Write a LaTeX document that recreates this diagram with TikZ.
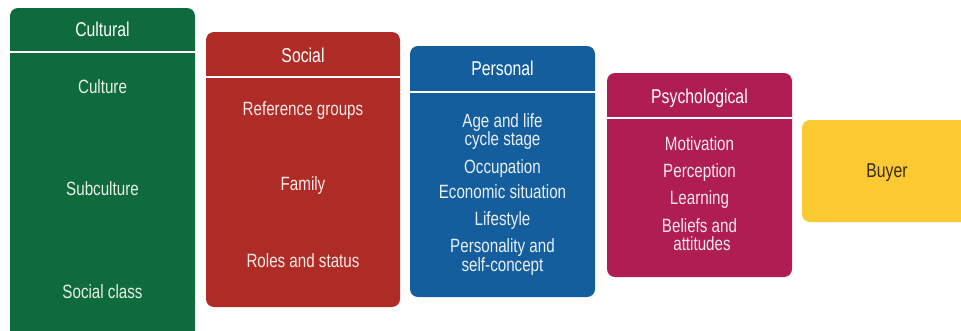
\documentclass[tikz,border=0pt]{standalone}
\usepackage{fontspec}
\setmainfont{Liberation Sans}[FakeStretch=0.79]
\definecolor{cgreen}{HTML}{0F6B3B}
\definecolor{cred}{HTML}{AF2C26}
\definecolor{cblue}{HTML}{155E9E}
\definecolor{cmag}{HTML}{B01D52}
\definecolor{cyel}{HTML}{FBCA33}
\definecolor{cdark}{HTML}{3A2A10}
\begin{document}
\begin{tikzpicture}[x=0.75pt,y=-0.75pt,
  panel/.style={rounded corners=6pt},
  sep/.style={white, line width=1.6pt},
  lbl/.style={anchor=base, inner sep=0pt, font=\fontsize{14.4}{15}\selectfont, text=white, text opacity=0.9},
  hd/.style={lbl, font=\fontsize{15}{16}\selectfont, text opacity=1}]
\clip (0,0) rectangle (961,330);
\fill[white] (0,0) rectangle (961,330);
% Cultural
\fill[cgreen, panel] (10,8) rectangle (195,345);
\draw[sep] (10,52) -- (195,52);
\node[hd] (cult) at (102.5,36) {Cultural};
\node[lbl] (c1) at (102.5,93) {Culture};
\node[lbl] (c2) at (102.5,195) {Subculture};
\node[lbl] (c3) at (102.5,298) {Social class};
% Social
\fill[cred, panel] (206,32) rectangle (400,307);
\draw[sep] (206,77) -- (400,77);
\node[hd] (soc) at (303,62) {Social};
\node[lbl] (s1) at (303,115) {Reference groups};
\node[lbl] (s2) at (303,190) {Family};
\node[lbl] (s3) at (303,267) {Roles and status};
% Personal
\fill[cblue, panel] (410,46) rectangle (595,297);
\draw[sep] (410,92) -- (595,92);
\node[hd] (per) at (502.5,75) {Personal};
\node[lbl] (p1a) at (502.5,127) {Age and life};
\node[lbl] (p1b) at (502.5,145) {cycle stage};
\node[lbl] (p2) at (502.5,173) {Occupation};
\node[lbl] (p3) at (502.5,198) {Economic situation};
\node[lbl] (p4) at (502.5,225) {Lifestyle};
\node[lbl] (p5a) at (502.5,252) {Personality and};
\node[lbl] (p5b) at (502.5,271) {self-concept};
% Psychological
\fill[cmag, panel] (607,73) rectangle (792,277);
\draw[sep] (607,118) -- (792,118);
\node[hd] (psy) at (699.5,103) {Psychological};
\node[lbl] (q1) at (699.5,150) {Motivation};
\node[lbl] (q2) at (699.5,177) {Perception};
\node[lbl] (q3) at (699.5,204) {Learning};
\node[lbl] (q4a) at (699.5,232) {Beliefs and};
\node[lbl] (q4b) at (702,250) {attitudes};
% Buyer
\fill[cyel, panel] (802,120) rectangle (980,222);
\node[hd, text=cdark] (buy) at (887,177) {Buyer};
\end{tikzpicture}
\end{document}
